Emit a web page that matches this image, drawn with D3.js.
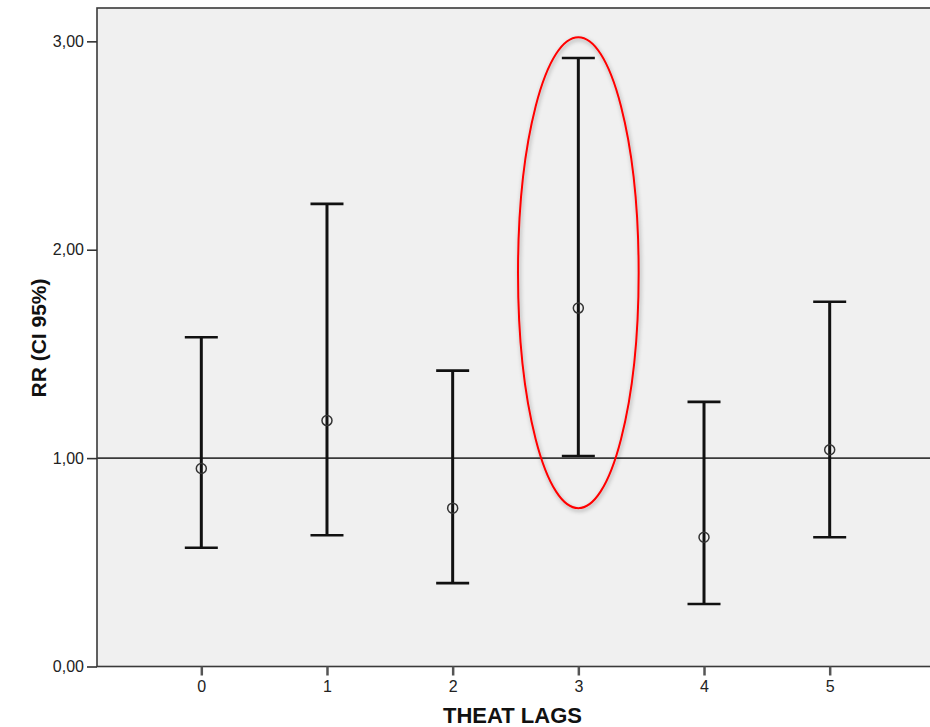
<!DOCTYPE html>
<html>
<head>
<meta charset="utf-8">
<script src="https://cdn.jsdelivr.net/npm/d3@7"></script>
<style>
  body { margin: 0; background: #fff; }
  svg { display: block; font-family: "Liberation Sans", Arial, sans-serif; }
</style>
</head>
<body>
<script>
// Daten: RR mit 95%-KI je Lag
const lags = [0, 1, 2, 3, 4, 5];
const rr = [0.95, 1.18, 0.76, 1.72, 0.62, 1.04];
const lower = [0.57, 0.63, 0.40, 1.01, 0.30, 0.62];
const upper = [1.58, 2.22, 1.42, 2.92, 1.27, 1.75];
const yTicks = [0, 1, 2, 3];
const refValue = 1;

// Markierung (rote Ellipse) um Lag 3
const highlightLag = 3;
const highlightRange = [0.76, 3.02];
const highlightHalfWidth = 0.48;

const width = 930, height = 727;
const plot = {left: 97, right: 934, top: 8, bottom: 666.5};

const svg = d3.select("body").append("svg")
    .attr("width", width)
    .attr("height", height);

const defs = svg.append("defs");
const shadow = defs.append("filter").attr("id", "shadow")
    .attr("x", "-20%").attr("y", "-20%").attr("width", "140%").attr("height", "140%");
shadow.append("feDropShadow")
    .attr("dx", 1).attr("dy", 2).attr("stdDeviation", 2)
    .attr("flood-color", "#000").attr("flood-opacity", 0.35);

const x = d3.scaleLinear().domain([-0.83, 5.83]).range([plot.left, plot.right]);
const y = d3.scaleLinear().domain([0, 3.16]).range([plot.bottom, plot.top]);

// Hintergrund
svg.append("rect")
    .attr("x", plot.left).attr("y", plot.top)
    .attr("width", plot.right - plot.left).attr("height", plot.bottom - plot.top)
    .attr("fill", "#f0f0f0")
    .attr("stroke", "#3a3a3a").attr("stroke-width", 1.6);

// Y-Achse
const yAxis = svg.append("g")
    .attr("transform", `translate(${plot.left},0)`)
    .call(d3.axisLeft(y).tickValues(yTicks).tickSize(10).tickPadding(3)
        .tickFormat(d => d3.format(".2f")(d).replace(".", ",")));
yAxis.select(".domain").remove();
yAxis.selectAll("line").attr("stroke", "#333").attr("stroke-width", 1.6);
yAxis.selectAll("text").attr("font-size", 16).attr("fill", "#222")
    .attr("font-family", "'Liberation Sans', Arial, sans-serif");

// X-Achse
const xAxis = svg.append("g")
    .attr("transform", `translate(0,${plot.bottom})`)
    .call(d3.axisBottom(x).tickValues(lags).tickSize(9).tickPadding(5).tickFormat(d3.format("d")));
xAxis.select(".domain").remove();
xAxis.selectAll("line").attr("stroke", "#555").attr("stroke-width", 2.5);
xAxis.selectAll("text").attr("font-size", 16).attr("fill", "#222")
    .attr("font-family", "'Liberation Sans', Arial, sans-serif");

// Referenzlinie bei RR = 1
svg.append("line")
    .attr("x1", plot.left).attr("x2", plot.right)
    .attr("y1", y(refValue)).attr("y2", y(refValue))
    .attr("stroke", "#3a3a3a").attr("stroke-width", 1.6);

const data = lags.map((lag, i) => ({lag, rr: rr[i], lo: lower[i], hi: upper[i]}));
const capHalf = 16.5;

const bars = svg.append("g").selectAll("g")
    .data(data)
    .join("g");

bars.append("line")
    .attr("x1", d => x(d.lag)).attr("x2", d => x(d.lag))
    .attr("y1", d => y(d.hi)).attr("y2", d => y(d.lo))
    .attr("stroke", "#111").attr("stroke-width", 3);

bars.selectAll(".cap")
    .data(d => [{lag: d.lag, v: d.hi}, {lag: d.lag, v: d.lo}])
    .join("line")
    .attr("class", "cap")
    .attr("x1", d => x(d.lag) - capHalf).attr("x2", d => x(d.lag) + capHalf)
    .attr("y1", d => y(d.v)).attr("y2", d => y(d.v))
    .attr("stroke", "#111").attr("stroke-width", 2.6);

bars.append("circle")
    .attr("cx", d => x(d.lag)).attr("cy", d => y(d.rr))
    .attr("r", 5)
    .attr("fill", "none")
    .attr("stroke", "#333").attr("stroke-width", 1.5);

// Rote Ellipse
svg.append("ellipse")
    .attr("cx", x(highlightLag))
    .attr("cy", (y(highlightRange[0]) + y(highlightRange[1])) / 2)
    .attr("rx", x(highlightLag + highlightHalfWidth) - x(highlightLag))
    .attr("ry", (y(highlightRange[0]) - y(highlightRange[1])) / 2)
    .attr("fill", "none")
    .attr("stroke", "#ff0000").attr("stroke-width", 2)
    .attr("filter", "url(#shadow)");

// Achsenbeschriftungen
svg.append("text")
    .attr("x", (plot.left + plot.right) / 2 - 3)
    .attr("y", 723)
    .attr("text-anchor", "middle")
    .attr("font-size", 22).attr("font-weight", "bold").attr("fill", "#111")
    .text("THEAT LAGS");

svg.append("text")
    .attr("transform", `translate(46,338) rotate(-90)`)
    .attr("text-anchor", "middle")
    .attr("font-size", 21).attr("font-weight", "bold").attr("fill", "#111")
    .text("RR (CI 95%)");
</script>
</body>
</html>
